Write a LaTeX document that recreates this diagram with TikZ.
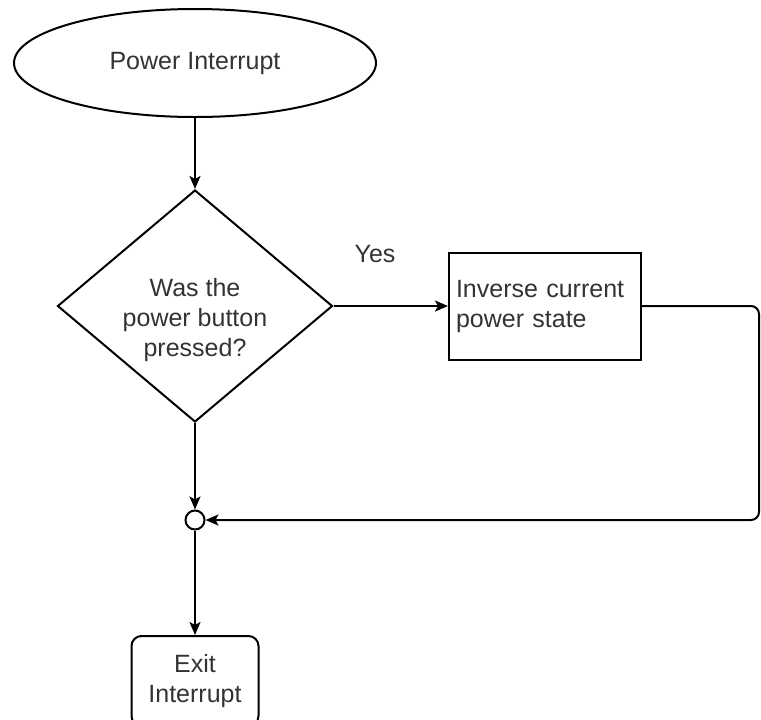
\documentclass[tikz,border=0pt]{standalone}
\usepackage{fontspec}
\setmainfont{Liberation Sans}
\usetikzlibrary{arrows.meta,shapes.geometric}
\definecolor{ink}{HTML}{333333}

\begin{document}
\begin{tikzpicture}[x=0.5pt,y=-0.5pt,
  every node/.style={font=\fontsize{12.5}{15}\selectfont,text=ink},
  every label/.style={font=\fontsize{12.5}{15}\selectfont,text=ink,align=center},
  shapebox/.style={draw,line width=1pt,inner sep=0pt},
  flow/.style={line width=1pt,-{Stealth[length=6.5pt,width=5.5pt,inset=1.5pt]}}]
  \useasboundingbox (0,0) rectangle (761,719);

  \node[shapebox,ellipse,minimum width=181pt,minimum height=54pt] (start) at (195,63) {Power Interrupt};
  \node[shapebox,diamond,aspect=1.18,minimum width=137.5pt,minimum height=116pt,
    label={[yshift=-7pt]center:Was the\\power button\\pressed?}] (decide) at (195,306) {};
  \node[shapebox,rectangle,minimum width=96pt,minimum height=53.5pt,inner xsep=3.5pt,text width=89pt,align=left] (invert) at (545,306) {Inverse current\\power state};
  \node[shapebox,circle,minimum size=9.5pt] (join) at (195,520) {};
  \node[shapebox,rectangle,rounded corners=5pt,minimum width=63.5pt,minimum height=45pt,align=center] (stop) at (195,681) {Exit\\Interrupt};
  \node (yes) at (375,254) {Yes};

  \coordinate (turn1) at (759,306);
  \coordinate (turn2) at (759,520);

  \draw[flow] (start) -- (decide);
  \draw[flow] (decide) -- (invert);
  \draw[flow,rounded corners=4pt] (invert.east) -- (turn1) -- (turn2) -- (join.east);
  \draw[flow] (decide) -- (join);
  \draw[flow] (join) -- (stop);
\end{tikzpicture}
\end{document}
